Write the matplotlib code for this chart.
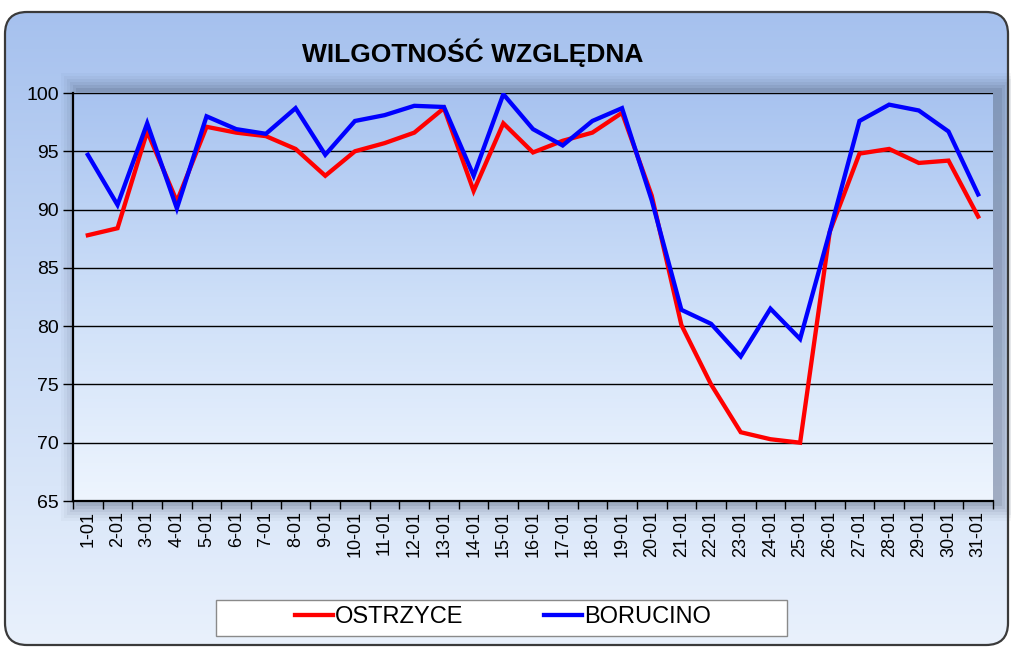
import numpy as np
import matplotlib.pyplot as plt
from matplotlib.patches import FancyBboxPatch, Rectangle
from matplotlib.colors import LinearSegmentedColormap

# dane
days = ['1-01', '2-01', '3-01', '4-01', '5-01', '6-01', '7-01', '8-01', '9-01', '10-01',
        '11-01', '12-01', '13-01', '14-01', '15-01', '16-01', '17-01', '18-01', '19-01', '20-01',
        '21-01', '22-01', '23-01', '24-01', '25-01', '26-01', '27-01', '28-01', '29-01', '30-01', '31-01']
ostrzyce = [87.8, 88.4, 96.7, 90.7, 97.1, 96.6, 96.3, 95.2, 92.9, 95.0, 95.7, 96.6, 98.7, 91.6, 97.4, 94.9,
            95.9, 96.6, 98.3, 91.2, 80.1, 75.0, 70.9, 70.3, 70.0, 88.1, 94.8, 95.2, 94.0, 94.2, 89.4]
borucino = [94.7, 90.4, 97.4, 90.1, 98.0, 96.9, 96.5, 98.7, 94.7, 97.6, 98.1, 98.9, 98.8, 92.9, 99.9, 96.9,
            95.5, 97.6, 98.7, 90.8, 81.4, 80.2, 77.4, 81.5, 78.9, 88.1, 97.6, 99.0, 98.5, 96.7, 91.3]
yticks = [65, 70, 75, 80, 85, 90, 95, 100]
series_names = ['OSTRZYCE', 'BORUCINO']

narrow = ['Liberation Sans', 'DejaVu Sans']
W, H = 1011, 650

fig = plt.figure(figsize=(W / 100, H / 100), dpi=100)

# tlo calego wykresu
bg = fig.add_axes([0, 0, 1, 1])
bg.set_xlim(0, W)
bg.set_ylim(H, 0)
bg.axis('off')

outer_cmap = LinearSegmentedColormap.from_list('outer', ['#a6c1ee', '#c9dbf6', '#e9f1fc'])
grad = np.linspace(0, 1, 256).reshape(-1, 1)
frame = FancyBboxPatch((5, 12), 1003, 633, boxstyle='round,pad=0,rounding_size=22',
                       facecolor='none', edgecolor='#3a3a3a', lw=1.6, zorder=3)
bg.add_patch(frame)
im = bg.imshow(grad, cmap=outer_cmap, extent=[5, 1008, 645, 12], aspect='auto', zorder=1)
im.set_clip_path(frame)

# cien pod obszarem wykresu
px0, px1, py0, py1 = 73, 993, 93, 501
for i, a in enumerate([0.03, 0.04, 0.05, 0.06, 0.08, 0.10]):
    s = 18 - i * 3
    bg.add_patch(Rectangle((px0 - s + 6, py0 - s - 2), (px1 - px0) + 2 * s, (py1 - py0) + 2 * s + 4,
                           facecolor='#2a3550', edgecolor='none', alpha=a, zorder=2))

# obszar wykresu
ax = fig.add_axes([px0 / W, 1 - py1 / H, (px1 - px0) / W, (py1 - py0) / H])
inner_cmap = LinearSegmentedColormap.from_list('inner', ['#a8c3f0', '#cddff8', '#eef5fe'])
ax.imshow(grad, cmap=inner_cmap, extent=[0, 1, 0, 1], transform=ax.transAxes,
          aspect='auto', zorder=0)

x = np.arange(len(days))
ax.plot(x, ostrzyce, color='#ff0000', lw=3.1, solid_joinstyle='miter', zorder=3, label=series_names[0])
ax.plot(x, borucino, color='#0000ff', lw=3.1, solid_joinstyle='miter', zorder=4, label=series_names[1])

ax.set_xlim(-0.5, len(days) - 0.5)
ax.set_ylim(65, 100)
ax.set_yticks(yticks)
ax.set_yticklabels([str(v) for v in yticks], family=narrow, fontsize=14)
ax.yaxis.grid(True, color='black', lw=1.0, zorder=1)
ax.set_axisbelow(False)

ax.set_xticks(np.arange(-0.5, len(days), 1.0))
ax.set_xticklabels([])
ax.set_xticks(x, minor=True)
ax.set_xticklabels(days, minor=True, rotation=90, fontsize=13, family=narrow)
ax.tick_params(axis='x', which='minor', length=0, pad=7)
ax.tick_params(axis='x', which='major', length=6, width=1, direction='out')
ax.tick_params(axis='y', length=7, width=1, direction='out', pad=3)

for side in ['top', 'right']:
    ax.spines[side].set_visible(False)
for side in ['left', 'bottom']:
    ax.spines[side].set_linewidth(1.6)
    ax.spines[side].set_zorder(5)

# tytul
fig.text(473 / W, 1 - 53 / H, 'WILGOTNOŚĆ WZGLĘDNA', ha='center', va='center',
         fontsize=19, fontweight='bold', family=narrow)

# legenda
bg.add_patch(Rectangle((216, 600), 571, 36, facecolor='white', edgecolor='#8a8a8a', lw=1, zorder=4))
leg = fig.legend(loc='center', bbox_to_anchor=(503 / W, 1 - 617 / H), ncol=2, frameon=False,
                 prop={'family': narrow, 'size': 17}, handlelength=1.6, handletextpad=0.1,
                 columnspacing=3.4)
leg.set_zorder(6)

fig.savefig('out.png', dpi=100)
